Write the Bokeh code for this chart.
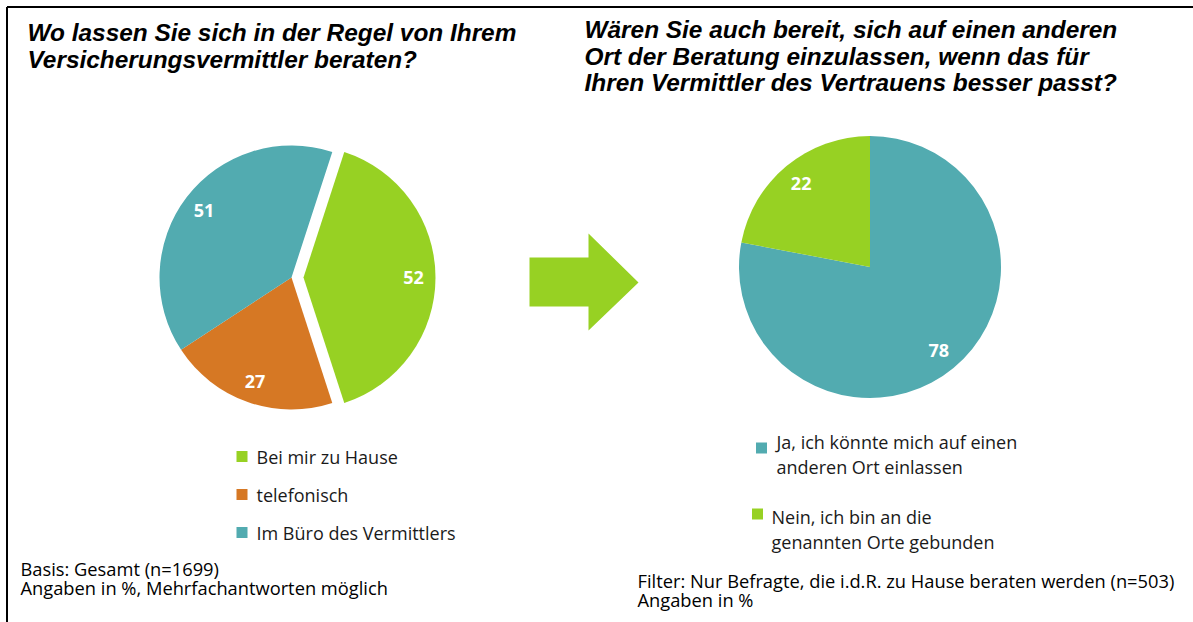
import math
from bokeh.plotting import figure
from bokeh.models import Range1d
from bokeh.core.properties import value
from bokeh.embed import file_html
from bokeh.resources import INLINE

# ---------------- data ----------------
left_title = ["Wo lassen Sie sich in der Regel von Ihrem",
              "Versicherungsvermittler beraten?"]
right_title = ["Wären Sie auch bereit, sich auf einen anderen",
               "Ort der Beratung einzulassen, wenn das für",
               "Ihren Vermittler des Vertrauens besser passt?"]

left_categories = ["Bei mir zu Hause", "telefonisch", "Im Büro des Vermittlers"]
left_values = [52, 27, 51]
left_colors = ["#97D123", "#D67824", "#52ABB0"]
left_explode = [1, 0, 0]

right_categories = [["Ja, ich könnte mich auf einen", "anderen Ort einlassen"],
                    ["Nein, ich bin an die", "genannten Orte gebunden"]]
right_values = [78, 22]
right_colors = ["#52ABB0", "#97D123"]
right_explode = [0, 0]

left_notes = ["Basis: Gesamt (n=1699)", "Angaben in %, Mehrfachantworten möglich"]
right_notes = ["Filter: Nur Befragte, die i.d.R. zu Hause beraten werden (n=503)",
               "Angaben in %"]

arrow_color = "#97D123"

# ---------------- layout ----------------
W, H = 1193, 622
OFF = 0
PAGE_H = 622


def Y(yr):
    return PAGE_H - yr


p = figure(width=W, height=H, output_backend="svg", toolbar_location=None,
           x_range=Range1d(OFF, OFF + W), y_range=Range1d(Y(OFF + H), Y(OFF)),
           min_border=0)
p.axis.visible = False
p.xgrid.visible = False
p.ygrid.visible = False
p.outline_line_color = None
p.background_fill_color = "white"
p.border_fill_color = "white"

SANS = value("Open Sans")
TITLE_FONT = value("Liberation Sans")
LEGEND_SIZE = "18px"
NOTE_SIZE = "18.3px"

# frame lines (top and left)
p.line(x=[6.5, 6.5], y=[Y(PAGE_H), Y(6.5)], line_color="black", line_width=2)
p.line(x=[6.5, W], y=[Y(6.5), Y(6.5)], line_color="black", line_width=2)

# titles
for i, line in enumerate(left_title):
    p.text(x=[27], y=[Y(32 + i * 26.5)], text=[line], text_font=TITLE_FONT,
           text_font_size="24.4px", text_font_style="bold italic",
           text_baseline="alphabetic", text_align="left", text_color="black")
for i, line in enumerate(right_title):
    p.text(x=[584], y=[Y(29 + i * 26.5)], text=[line], text_font=TITLE_FONT,
           text_font_size="24.4px", text_font_style="bold italic",
           text_baseline="alphabetic", text_align="left", text_color="black")


def pie(cx, cy, r, values, colors, start_deg, explode, explode_px, label_r):
    total = float(sum(values))
    a = math.radians(start_deg)
    for v, c, e in zip(values, colors, explode):
        span = v / total * 2 * math.pi
        start, end = a, a - span
        mid = (start + end) / 2
        ox = e * explode_px * math.cos(mid)
        oy = e * explode_px * math.sin(mid)
        p.wedge(x=[cx + ox], y=[cy + oy], radius=r, start_angle=end, end_angle=start,
                direction="anticlock", fill_color=c, line_color=None)
        p.text(x=[cx + ox + label_r * math.cos(mid)], y=[cy + oy + label_r * math.sin(mid)],
               text=[str(v)], text_font=SANS, text_font_size="18px",
               text_font_style="bold", text_color="white",
               text_align="center", text_baseline="middle")
        a = end


pie(291, Y(277), 132, left_values, left_colors, 72, left_explode, 12, 110)
pie(869.5, Y(266.5), 131, right_values, right_colors, 90, right_explode, 0, 108)

# arrow
ax = [529, 588, 588, 638, 588, 588, 529]
ay = [257, 257, 233, 282, 330, 306, 306]
p.patch(x=ax, y=[Y(v) for v in ay], fill_color=arrow_color, line_color=None)

# left legend
for i, (cat, col) in enumerate(zip(left_categories, left_colors)):
    yc = 456 + i * 38
    p.rect(x=[241.5], y=[Y(yc)], width=11, height=11, fill_color=col, line_color=None)
    p.text(x=[256], y=[Y(yc)], text=[cat], text_font=SANS, text_font_size=LEGEND_SIZE,
           text_baseline="middle", text_align="left", text_color="#1a1a1a")

# right legend
r_sq = [(761, 447.5, 776), (757, 513.5, 771)]
for i, (lines, col) in enumerate(zip(right_categories, right_colors)):
    sx, sy, tx = r_sq[i]
    p.rect(x=[sx], y=[Y(sy)], width=11, height=11, fill_color=col, line_color=None)
    ybase = 441 + i * 75
    for j, line in enumerate(lines):
        p.text(x=[tx], y=[Y(ybase + j * 25)], text=[line], text_font=SANS,
               text_font_size=LEGEND_SIZE, text_baseline="middle", text_align="left",
               text_color="#1a1a1a")

# footnotes
for j, line in enumerate(left_notes):
    p.text(x=[20], y=[Y(568 + j * 19)], text=[line], text_font=SANS, text_font_size=NOTE_SIZE,
           text_baseline="middle", text_align="left", text_color="black")
for j, line in enumerate(right_notes):
    p.text(x=[637], y=[Y(580 + j * 19)], text=[line], text_font=SANS, text_font_size=NOTE_SIZE,
           text_baseline="middle", text_align="left", text_color="black")

open("out.html", "w").write(file_html(p, INLINE))
